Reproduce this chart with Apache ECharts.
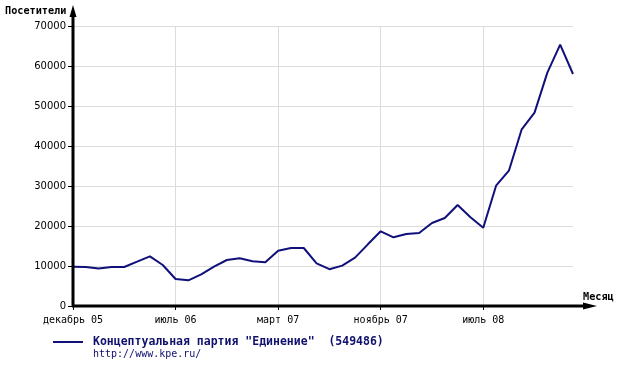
<!DOCTYPE html>
<html>
<head>
<meta charset="utf-8">
<script src="https://cdn.jsdelivr.net/npm/echarts@6/dist/echarts.min.js"></script>
<style>html,body{margin:0;padding:0;background:#fff;}#c{width:618px;height:365px;}</style>
</head>
<body>
<div id="c"></div>
<script>
const categories = [
  'декабрь 05','','','','','','','',
  'июль 06','','','','','','','',
  'март 07','','','','','','','',
  'ноябрь 07','','','','','','','',
  'июль 08','','','','','','',''
];
const visitors = [
  9800, 9750, 9400, 9750, 9750, 11080, 12420, 10250, 6750, 6420,
  7920, 9830, 11500, 11920, 11170, 10920, 13830, 14500, 14500, 10670,
  9200, 10100, 12080, 15420, 18670, 17170, 18000, 18250, 20750, 22000,
  25250, 22170, 19580, 30080, 33830, 44170, 48330, 58330, 65330, 58000
];
const seriesName = 'Концептуальная партия "Единение"  (549486)';
const seriesUrl = 'http://www.kpe.ru/';
const yAxisTitle = 'Посетители';
const xAxisTitle = 'Месяц';

const chart = echarts.init(document.getElementById('c'), null, {renderer: 'canvas'});
chart.setOption({
  animation: false,
  backgroundColor: '#fff',
  grid: {left: 73, right: 45, top: 26, bottom: 59, containLabel: false},
  legend: {
    left: 53, top: 336, padding: 0,
    itemWidth: 30, itemHeight: 14,
    icon: 'path://M0,6 L30,6 L30,8 L0,8 Z',
    textStyle: {fontFamily: 'DejaVu Sans Mono', fontWeight: 'bold', fontSize: 11.5, color: '#10106e', padding: [0, 0, 0, 5]},
    data: [seriesName]
  },
  xAxis: {
    type: 'category',
    boundaryGap: false,
    data: categories,
    axisLine: {show: false},
    axisTick: {show: true, interval: 7, length: 4, lineStyle: {color: '#000', width: 1}},
    axisLabel: {interval: 7, fontFamily: 'DejaVu Sans Mono', fontSize: 10, color: '#000', margin: 9},
    splitLine: {show: true, interval: 7, lineStyle: {color: '#dcdcdc', width: 1}}
  },
  yAxis: {
    type: 'value',
    min: 0, max: 70000, interval: 10000,
    axisLine: {show: false},
    axisTick: {show: true, length: 5, lineStyle: {color: '#000', width: 1}},
    axisLabel: {fontFamily: 'DejaVu Sans', fontSize: 10, color: '#000', margin: 7, formatter: function (v) { return String(v); }},
    splitLine: {show: true, lineStyle: {color: '#dcdcdc', width: 1}}
  },
  series: [{
    name: seriesName,
    type: 'line',
    data: visitors,
    symbol: 'none',
    smooth: false,
    lineStyle: {color: '#10107a', width: 2},
    itemStyle: {color: '#10107a'}
  }],
  graphic: [
    {type: 'line', z: 100, shape: {x1: 73, y1: 307, x2: 73, y2: 14}, style: {stroke: '#000', lineWidth: 3}},
    {type: 'polygon', z: 100, shape: {points: [[69.5, 17], [76.5, 17], [73, 5]]}, style: {fill: '#000'}},
    {type: 'line', z: 100, shape: {x1: 72, y1: 306, x2: 588, y2: 306}, style: {stroke: '#000', lineWidth: 3}},
    {type: 'polygon', z: 100, shape: {points: [[583, 302.5], [583, 309.5], [597, 306]]}, style: {fill: '#000'}},
    {type: 'text', z: 100, left: 5, top: 6, style: {text: yAxisTitle, fontFamily: 'DejaVu Sans Mono', fontWeight: 'bold', fontSize: 10.2, fill: '#000'}},
    {type: 'text', z: 100, left: 583, top: 292, style: {text: xAxisTitle, fontFamily: 'DejaVu Sans Mono', fontWeight: 'bold', fontSize: 10.2, fill: '#000'}},
    {type: 'text', z: 100, left: 93, top: 349, style: {text: seriesUrl, fontFamily: 'DejaVu Sans Mono', fontSize: 10, fill: '#10106e'}}
  ]
});
</script>
</body>
</html>
